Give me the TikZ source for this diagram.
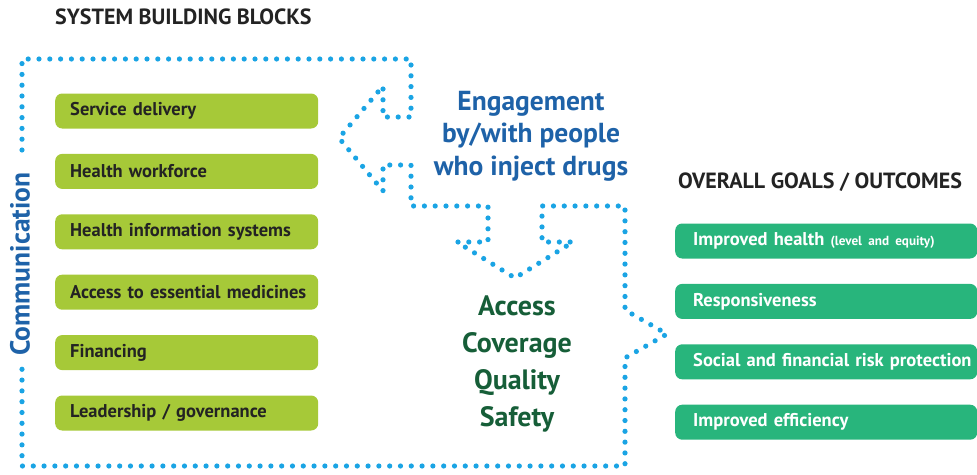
\documentclass[tikz,border=0pt]{standalone}
\usepackage{fontspec}
\setmainfont{PT Sans}
\usetikzlibrary{positioning}
\definecolor{blockclr}{RGB}{166,201,56}
\definecolor{goalclr}{RGB}{40,181,124}
\definecolor{dotclr}{RGB}{26,164,228}
\definecolor{engclr}{RGB}{30,98,168}
\definecolor{accclr}{RGB}{22,94,56}
\definecolor{txtclr}{RGB}{35,35,35}
\tikzset{
  box/.style={rectangle,rounded corners=7pt,minimum height=35pt,
              inner xsep=2pt,align=left,
              font=\fontsize{18.5}{22}\selectfont\bfseries},
  block/.style={box,fill=blockclr,text=txtclr,text width=259pt,
                execute at begin node={\hspace*{13pt}}},
  goal/.style={box,fill=goalclr,text=white,text width=298pt,
               execute at begin node={\hspace*{16pt}}},
  head/.style={inner sep=0pt,text=txtclr,
               font=\fontsize{22}{26}\selectfont\bfseries},
  big/.style={align=center,inner sep=0pt,font=\bfseries},
  dots/.style={draw=dotclr,line width=5.2pt,line cap=round,
               dash pattern=on 0pt off 10.8pt},
}
\begin{document}
\begin{tikzpicture}[x=1pt,y=-1pt,node distance=25pt]
\useasboundingbox (0,0) rectangle (977,474);

% building blocks
\node[head,anchor=west] (sbb) at (55,17) {SYSTEM BUILDING BLOCKS};
\node[block,anchor=west] (sd) at (55,111) {Service delivery};
\node[block,below=of sd] (hw) {Health workforce};
\node[block,below=of hw] (his) {Health information systems};
\node[block,below=of his] (med) {Access to essential medicines};
\node[block,below=of med] (fin) {Financing};
\node[block,below=of fin] (lead) {Leadership / governance};

% goals
\node[head,anchor=west] (goals) at (678,182) {OVERALL GOALS / OUTCOMES};
\node[goal,anchor=west] (hlth) at (675,241)
      {Improved health {\fontsize{13.2}{15}\selectfont(level and equity)}};
\node[goal,below=of hlth] (resp) {Responsiveness};
\node[goal,below=of resp] (risk) {Social and financial risk protection};
\node[goal,below=of risk] (eff) {Improved efficiency};

% middle texts
\node[big,text=engclr,font=\fontsize{27.5}{32.5}\selectfont\bfseries] (eng) at (531,136)
      {Engagement\\by/with people\\who inject drugs};
\node[big,text=accclr,font=\fontsize{28}{37}\selectfont\bfseries] (acc) at (517,364)
      {Access\\Coverage\\Quality\\Safety};
\node[big,text=engclr,rotate=90,font=\fontsize{27.5}{30}\selectfont\bfseries] (comm) at (20,264)
      {Communication};

% dotted outline with the three arrows
\draw[dots] (22,150) -- (22,59) -- (411,59) -- (411,117) -- (383,117)
   -- (383,86) -- (339,138) -- (383,191) -- (383,165) -- (411,165)
   -- (411,206) -- (488,206) -- (488,242) -- (457,242) -- (515,278)
   -- (573,242) -- (542,242) -- (542,206) -- (625,206) -- (625,310)
   -- (667,334) -- (625,358) -- (625,466) -- (22,466) -- (22,368);
\end{tikzpicture}
\end{document}
